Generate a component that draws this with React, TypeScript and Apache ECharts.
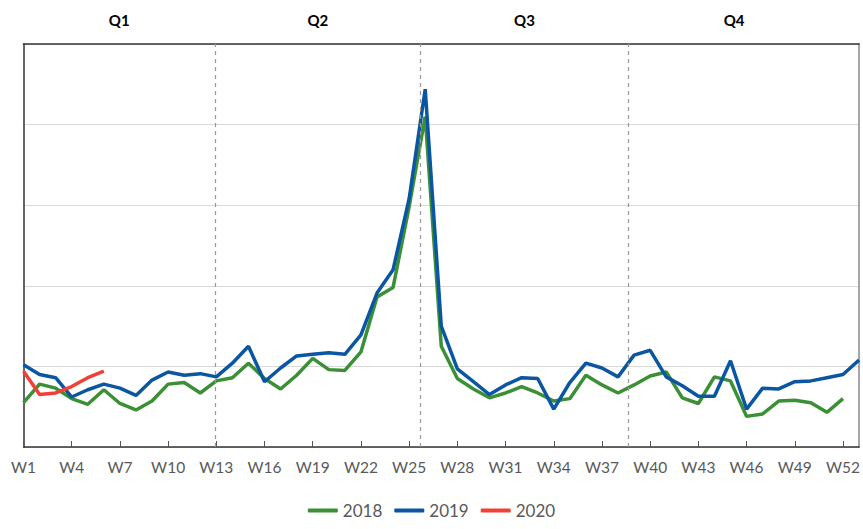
import React, { useEffect, useRef } from "react";
import * as echarts from "echarts";

const weeks: string[] = Array.from({ length: 53 }, (_, i) => "W" + (i + 1));
const seriesNames = ["2018", "2019", "2020"];

const values2018: number[] = [
  55, 78, 73, 60, 53, 71, 54, 46, 57, 78, 80, 67, 82,
  86, 104, 85, 72, 89, 110, 96, 95, 118, 186, 198, 298, 410,
  125, 85, 72, 61, 67, 75, 67, 57, 60, 89, 77, 67, 77,
  88, 93, 61, 54, 87, 82, 38, 41, 57, 58, 55, 43, 60,
];
const values2019: number[] = [
  102, 90, 86, 62, 71, 78, 73, 64, 83, 93, 89, 91, 87,
  104, 125, 81, 98, 113, 115, 117, 115, 139, 191, 220, 308, 444,
  150, 97, 81, 65, 77, 86, 85, 47, 80, 104, 98, 87, 114,
  120, 87, 76, 63, 63, 107, 47, 73, 72, 81, 82, 86, 90, 108,
];
const values2020: number[] = [94, 65, 67, 75, 86, 94];

const quarterLabels = ["Q1", "Q2", "Q3", "Q4"];
const quarterBounds: number[] = [0, 11.91, 24.72, 37.64, 50.8];

const colors = ["#3b8f35", "#0b56a3", "#ef4136"];

export default function App() {
  const ref = useRef<HTMLDivElement>(null);
  useEffect(() => {
    if (!ref.current) return;
    const chart = echarts.init(ref.current, undefined, { renderer: "svg" });
    const toPts = (arr: number[]) => arr.map((v, i) => [i, v]);
    const font = "Lato";
    chart.setOption({
      animation: false,
      color: colors,
      textStyle: { fontFamily: font },
      grid: { left: 23.5, right: 3, top: 44, bottom: 82, containLabel: false },
      legend: {
        bottom: 5,
        left: "center",
        icon: "roundRect",
        itemWidth: 30,
        itemHeight: 4,
        itemGap: 12,
        textStyle: { color: "#595959", fontSize: 17, fontFamily: font },
        data: seriesNames,
      },
      xAxis: [
        {
          type: "value",
          min: 0,
          max: 52,
          interval: 3,
          axisLine: { show: true, lineStyle: { color: "#333", width: 1.5 } },
          axisTick: { show: true, inside: true, length: 6, lineStyle: { color: "#555" } },
          axisLabel: {
            color: "#595959",
            fontSize: 15.5,
            margin: 12,
            fontFamily: font,
            formatter: (v: number) => weeks[v] ?? "",
          },
          splitLine: { show: false },
        },
        {
          type: "value",
          position: "top",
          min: 0,
          max: 52,
          axisLine: { show: true, onZero: false, lineStyle: { color: "#333", width: 1.5 } },
          axisTick: { show: false },
          axisLabel: { show: false },
          splitLine: { show: false },
        },
      ],
      yAxis: [
        {
          type: "value",
          min: 0,
          max: 500,
          interval: 100,
          axisLine: { show: true, lineStyle: { color: "#333", width: 1.5 } },
          axisTick: { show: false },
          axisLabel: { show: false },
          splitLine: { show: true, lineStyle: { color: "#d9d9d9", width: 1 } },
        },
        {
          type: "value",
          position: "right",
          min: 0,
          max: 500,
          axisLine: { show: true, onZero: false, lineStyle: { color: "#888", width: 1.5 } },
          axisTick: { show: false },
          axisLabel: { show: false },
          splitLine: { show: false },
        },
      ],
      series: [
        {
          name: seriesNames[0],
          type: "line",
          data: toPts(values2018),
          showSymbol: false,
          lineStyle: { width: 3.5, color: colors[0] },
          z: 3,
          markLine: {
            silent: true,
            symbol: "none",
            label: { show: false },
            lineStyle: { type: [4, 4], color: "#999", width: 1.2 },
            data: quarterBounds.slice(1, 4).map((x) => ({ xAxis: x })),
          },
          markArea: {
            silent: true,
            itemStyle: { color: "rgba(0,0,0,0)" },
            label: {
              show: true,
              position: "top",
              distance: 17,
              color: "#000",
              fontWeight: "bold",
              fontSize: 15,
              fontFamily: font,
            },
            data: quarterLabels.map((q, i) => [
              { name: q, xAxis: quarterBounds[i], yAxis: 500 },
              { xAxis: quarterBounds[i + 1], yAxis: 0 },
            ]),
          },
        },
        {
          name: seriesNames[1],
          type: "line",
          data: toPts(values2019),
          showSymbol: false,
          lineStyle: { width: 3.5, color: colors[1] },
          z: 4,
        },
        {
          name: seriesNames[2],
          type: "line",
          data: toPts(values2020),
          showSymbol: false,
          lineStyle: { width: 3.5, color: colors[2] },
          z: 5,
        },
      ],
    });
    return () => chart.dispose();
  }, []);
  return <div ref={ref} style={{ width: 863, height: 529, position: "absolute", left: 0, top: 0 }} />;
}
